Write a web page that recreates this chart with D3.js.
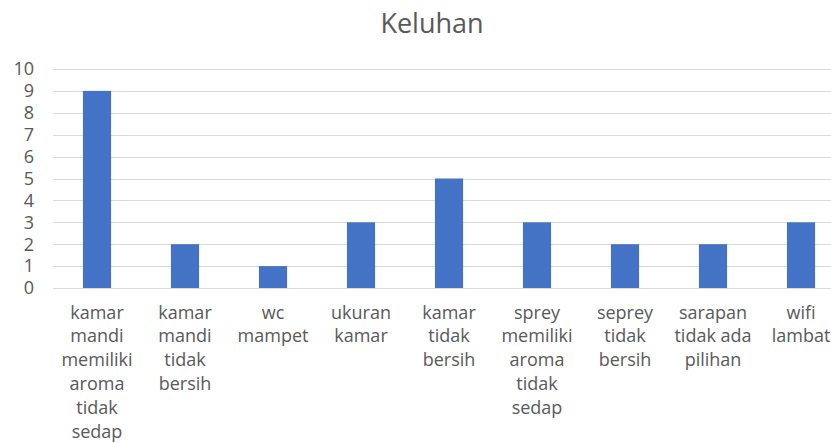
<!DOCTYPE html>
<html>
<head>
<meta charset="utf-8">
<script src="https://cdn.jsdelivr.net/npm/d3@7"></script>
<style>
  html, body { margin: 0; padding: 0; background: #ffffff; }
  svg { display: block; }
  text { font-family: "Open Sans", "Noto Sans", sans-serif; fill: #595959; }
</style>
</head>
<body>
<svg id="chart" width="831" height="443"></svg>
<script>
const title = "Keluhan";
const categories = [
  "kamar\nmandi\nmemiliki\naroma\ntidak\nsedap",
  "kamar\nmandi\ntidak\nbersih",
  "wc\nmampet",
  "ukuran\nkamar",
  "kamar\ntidak\nbersih",
  "sprey\nmemiliki\naroma\ntidak\nsedap",
  "seprey\ntidak\nbersih",
  "sarapan\ntidak ada\npilihan",
  "wifi\nlambat"
];
const values = [9, 2, 1, 3, 5, 3, 2, 2, 3];
const yTicks = [0, 1, 2, 3, 4, 5, 6, 7, 8, 9, 10];

const svg = d3.select("#chart");

const x = d3.scaleBand()
  .domain(categories)
  .range([53, 845])
  .paddingInner(0.68)
  .paddingOuter(0.34);

const y = d3.scaleLinear().domain([0, 10]).range([288, 69]);

// gridlines
svg.append("g")
  .selectAll("line")
  .data(yTicks)
  .join("line")
  .attr("x1", 53)
  .attr("x2", 845)
  .attr("y1", d => Math.round(y(d)) + 0.5)
  .attr("y2", d => Math.round(y(d)) + 0.5)
  .attr("stroke", "#d9d9d9")
  .attr("stroke-width", 1);

// y tick labels
svg.append("g")
  .selectAll("text")
  .data(yTicks)
  .join("text")
  .attr("x", 34)
  .attr("y", d => y(d))
  .attr("dy", "0.35em")
  .attr("text-anchor", "end")
  .attr("font-size", 18)
  .text(d => d);

// bars
svg.append("g")
  .selectAll("rect")
  .data(values)
  .join("rect")
  .attr("x", (d, i) => x(categories[i]))
  .attr("width", x.bandwidth())
  .attr("y", d => y(d))
  .attr("height", d => y(0) - y(d))
  .attr("fill", "#4472c4");

// x labels
svg.append("g")
  .selectAll("text")
  .data(categories)
  .join("text")
  .attr("text-anchor", "middle")
  .attr("font-size", 18)
  .each(function(d) {
    const t = d3.select(this);
    const cx = x(d) + x.bandwidth() / 2;
    d.split("\n").forEach((line, i) => {
      t.append("tspan")
        .attr("x", cx)
        .attr("y", 318.5 + i * 23.8)
        .text(line);
    });
  });

// title
svg.append("text")
  .attr("x", 432)
  .attr("y", 33)
  .attr("text-anchor", "middle")
  .attr("font-size", 27)
  .text(title);
</script>
</body>
</html>
